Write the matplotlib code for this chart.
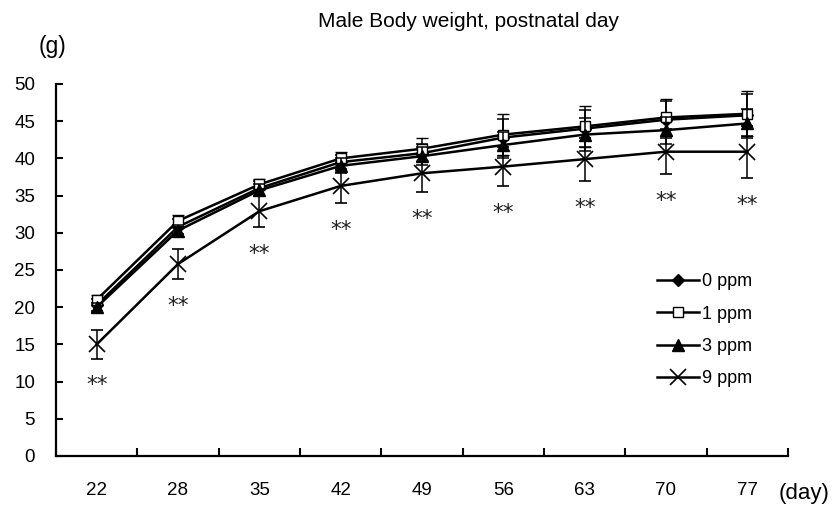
import matplotlib
matplotlib.use("Agg")
import matplotlib.pyplot as plt
from matplotlib.lines import Line2D
import numpy as np

plt.rcParams['font.family'] = ['Liberation Sans', 'DejaVu Sans']

days = ["22", "28", "35", "42", "49", "56", "63", "70", "77"]
groups = ["0 ppm", "1 ppm", "3 ppm", "9 ppm"]

mean_0 = [20.3, 30.8, 36.0, 39.5, 40.7, 42.8, 44.0, 45.2, 45.8]
mean_1 = [21.0, 31.6, 36.5, 40.0, 41.3, 43.2, 44.3, 45.5, 46.0]
mean_3 = [20.0, 30.3, 35.7, 39.0, 40.3, 41.8, 43.2, 43.8, 44.7]
mean_9 = [15.0, 25.8, 32.9, 36.3, 38.0, 38.9, 39.9, 40.9, 40.9]

sd_0 = [0.8, 1.0, 1.0, 1.0, 1.2, 2.5, 2.5, 2.5, 2.8]
sd_1 = [0.6, 0.8, 0.7, 0.9, 1.5, 2.8, 2.8, 2.5, 3.0]
sd_3 = [0.6, 0.8, 0.8, 1.0, 1.2, 1.7, 2.2, 1.8, 2.0]
sd_9 = [1.9, 2.0, 2.1, 2.3, 2.5, 2.6, 2.9, 3.0, 3.5]

signif_9 = ["**"] * 9

y_ticks = [0, 5, 10, 15, 20, 25, 30, 35, 40, 45, 50]

fig = plt.figure(figsize=(8.35, 5.2), dpi=100)
ax = fig.add_axes([56/835, 64/520, (788-56)/835, (456-84)/520])

x = np.arange(len(days))
styles = [
    dict(marker='D', ms=6.5, mfc='black', mec='black'),
    dict(marker='s', ms=7.5, mfc='white', mec='black', mew=1.0),
    dict(marker='^', ms=8, mfc='black', mec='black'),
    dict(marker='x', ms=11, mfc='black', mec='black', mew=1.2),
]
means = [mean_0, mean_1, mean_3, mean_9]
sds = [sd_0, sd_1, sd_3, sd_9]
order = [3, 2, 0, 1]
for i in order:
    ax.errorbar(x, means[i], yerr=sds[i], color='black', lw=1.8,
                elinewidth=1.1, capsize=4, capthick=1.1,
                zorder=3 + i, **styles[i])

for xi, m, s, t in zip(x, mean_9, sd_9, signif_9):
    ax.text(xi, m - s - 3.6, t, ha='center', va='center', fontsize=15.5,
            color='#222222', family='DejaVu Sans')

ax.set_xlim(-0.5, len(days) - 0.5)
ax.set_ylim(0, 50)
ax.set_yticks(y_ticks)
ax.set_xticks(x)
ax.set_xticklabels(days)
ax.set_xticks(np.arange(len(days) + 1) - 0.5, minor=True)
ax.tick_params(axis='x', which='major', length=0, pad=19, labelsize=13.5)
ax.tick_params(axis='x', which='minor', direction='in', length=6, width=1.5)
ax.tick_params(axis='y', direction='in', length=5, width=1.5, pad=15,
               labelsize=13.5)
for s in ['top', 'right']:
    ax.spines[s].set_visible(False)
for s in ['left', 'bottom']:
    ax.spines[s].set_linewidth(1.6)

handles = [Line2D([], [], color='black', lw=1.8, **styles[i]) for i in range(4)]
ax.legend(handles, groups, loc='upper left',
          bbox_to_anchor=(650/835, 1 - 266/520), bbox_transform=fig.transFigure,
          frameon=False, fontsize=13, handlelength=2.33, handletextpad=0.17,
          labelspacing=0.85, borderaxespad=0)

fig.text(469/835, 1 - 27/520, "Male Body weight, postnatal day",
         ha='center', va='baseline', fontsize=15)
fig.text(53/835, 1 - 46/520, "(g)", ha='center', va='center', fontsize=16.5)
fig.text(804/835, 1 - 493/520, "(day)", ha='center', va='center',
         fontsize=16)

fig.savefig("out.png", dpi=100)
